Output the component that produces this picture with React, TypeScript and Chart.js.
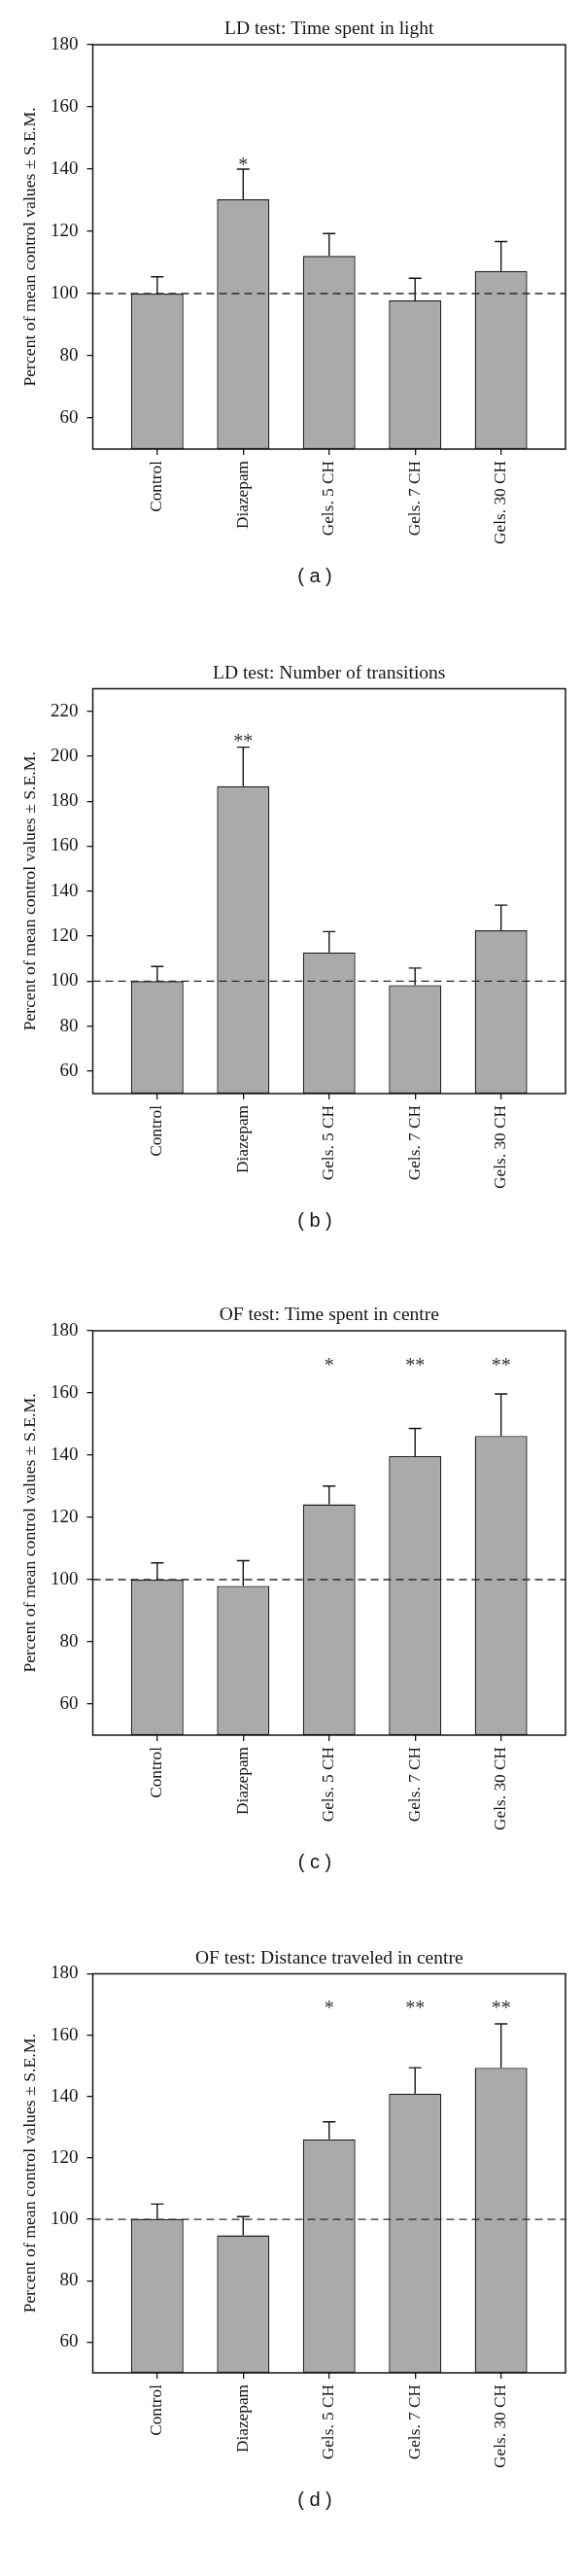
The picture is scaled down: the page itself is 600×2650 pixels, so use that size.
import React, { useEffect, useRef } from "react";
import { Chart, registerables } from "chart.js";

Chart.register(...registerables);

// ---------- data ----------
const categories = ["Control", "Diazepam", "Gels. 5 CH", "Gels. 7 CH", "Gels. 30 CH"];

const titleA = "LD test: Time spent in light";
const titleB = "LD test: Number of transitions";
const titleC = "OF test: Time spent in centre";
const titleD = "OF test: Distance traveled in centre";

const labelA = "( a )";
const labelB = "( b )";
const labelC = "( c )";
const labelD = "( d )";

const meanA = [100, 130.3, 112.1, 97.8, 107.3];
const semA = [5.4, 9.7, 7.2, 7.1, 9.4];
const sigA = ["", "*", "", "", ""];
const sigYA = 142.8;

const meanB = [100, 186.7, 112.8, 98.2, 122.6];
const semB = [6.5, 17.3, 9.2, 7.6, 11.2];
const sigB = ["", "**", "", "", ""];
const sigYB = 208.6;

const meanC = [100, 98, 124.2, 139.7, 146.2];
const semC = [5.4, 8.1, 5.9, 8.9, 13.5];
const sigC = ["", "", "*", "**", "**"];
const sigYC = 170.2;

const meanD = [100.1, 94.8, 126.1, 141, 149.4];
const semD = [4.9, 6.1, 5.7, 8.4, 14.3];
const sigD = ["", "", "*", "**", "**"];
const sigYD = 170.2;

const yTicksA = [60, 80, 100, 120, 140, 160, 180];
const yTicksB = [60, 80, 100, 120, 140, 160, 180, 200, 220];
const yTicksC = [60, 80, 100, 120, 140, 160, 180];
const yTicksD = [60, 80, 100, 120, 140, 160, 180];

const yMinA = 50, yMaxA = 180;
const yMinB = 50, yMaxB = 230;
const yMinC = 50, yMaxC = 180;
const yMinD = 50, yMaxD = 180;

const refValue = 100;
const yAxisTitle = "Percent of mean control values \u00b1 S.E.M.";

// ---------- styling ----------
const SERIF = "'Liberation Serif', 'Times New Roman', serif";
const SANS = "'Liberation Sans', Arial, sans-serif";
const INK = "#151515";

interface PanelProps {
  title: string;
  label: string;
  means: number[];
  sems: number[];
  sig: string[];
  sigY: number;
  yTicks: number[];
  yMin: number;
  yMax: number;
  height: number;
  areaTop: number;
  areaBottom: number;
}

function Panel(p: PanelProps) {
  const ref = useRef<HTMLCanvasElement | null>(null);

  useEffect(() => {
    if (!ref.current) return;
    const overlay = {
      id: "overlay",
      afterDatasetsDraw(chart: any) {
        const { ctx, chartArea: ca, scales } = chart;
        const xs = scales.x;
        const ys = scales.y;
        ctx.save();
        // reference dashed line
        const yRef = ys.getPixelForValue(refValue);
        ctx.strokeStyle = "#2a2a2a";
        ctx.lineWidth = 1.3;
        ctx.setLineDash([8, 5]);
        ctx.beginPath();
        ctx.moveTo(ca.left, yRef);
        ctx.lineTo(ca.right, yRef);
        ctx.stroke();
        ctx.setLineDash([]);
        // error bars and significance marks
        p.means.forEach((m, i) => {
          const px = xs.getPixelForValue(i);
          const yb = ys.getPixelForValue(m);
          const yt = ys.getPixelForValue(m + p.sems[i]);
          ctx.strokeStyle = INK;
          ctx.lineWidth = 1.4;
          ctx.beginPath();
          ctx.moveTo(px, yb);
          ctx.lineTo(px, yt);
          ctx.moveTo(px - 6.5, yt);
          ctx.lineTo(px + 6.5, yt);
          ctx.stroke();
          if (p.sig[i]) {
            ctx.fillStyle = "#333";
            ctx.font = `20px ${SERIF}`;
            ctx.textAlign = "center";
            ctx.textBaseline = "alphabetic";
            ctx.fillText(p.sig[i], px, ys.getPixelForValue(p.sigY) + 10.5);
          }
        });
        // frame
        ctx.strokeStyle = INK;
        ctx.lineWidth = 1.5;
        ctx.strokeRect(ca.left, ca.top, ca.right - ca.left, ca.bottom - ca.top);
        // title
        ctx.fillStyle = INK;
        ctx.font = `19.5px ${SERIF}`;
        ctx.textAlign = "center";
        ctx.textBaseline = "alphabetic";
        ctx.fillText(p.title, (ca.left + ca.right) / 2, ca.top - 11);
        // y axis title
        ctx.save();
        ctx.translate(31, (ca.top + ca.bottom) / 2);
        ctx.rotate(-Math.PI / 2);
        ctx.textBaseline = "middle";
        ctx.font = `17.7px ${SERIF}`;
        ctx.fillText(yAxisTitle, 0, 0);
        ctx.restore();
        // panel label
        ctx.font = `20px ${SANS}`;
        ctx.textBaseline = "middle";
        ctx.fillText(p.label, 324, ca.bottom + 131);
        ctx.restore();
      },
    };

    const chart = new Chart(ref.current, {
      type: "bar",
      data: {
        datasets: [
          {
            data: p.means.map((v, i) => ({ x: i, y: v })),
            backgroundColor: "#aaaaaa",
            borderColor: "#1e1e1e",
            borderWidth: 1.4,
            borderSkipped: false,
            base: p.yMin,
            barPercentage: 0.61,
            categoryPercentage: 1,
          } as any,
        ],
      },
      options: {
        responsive: false,
        animation: false,
        devicePixelRatio: 1,
        layout: {
          padding: {
            top: p.areaTop,
            left: 0,
            right: 18,
            bottom: p.height - p.areaBottom - 110,
          },
        },
        plugins: {
          legend: { display: false },
          tooltip: { enabled: false },
          title: { display: false },
        },
        scales: {
          x: {
            type: "linear",
            min: -0.75,
            max: 4.75,
            offset: false,
            bounds: "data",
            border: { display: false },
            grid: {
              offset: false,
              drawOnChartArea: false,
              drawTicks: true,
              tickLength: 6,
              color: INK,
              lineWidth: 1.3,
            },
            ticks: {
              autoSkip: false,
              minRotation: 90,
              maxRotation: 90,
              padding: 6,
              color: INK,
              font: { family: SERIF, size: 17.3 },
              callback: (v: any) => categories[Math.round(Number(v))] ?? "",
            },
            afterBuildTicks: (s: any) => {
              s.ticks = categories.map((_, i) => ({ value: i }));
            },
            afterFit: (s: any) => {
              s.height = 110;
              s.paddingLeft = 0;
              s.paddingRight = 0;
            },
          },
          y: {
            type: "linear",
            min: p.yMin,
            max: p.yMax,
            border: { display: false },
            grid: {
              drawOnChartArea: false,
              drawTicks: true,
              tickLength: 6,
              color: INK,
              lineWidth: 1.3,
            },
            ticks: {
              padding: 9,
              color: INK,
              font: { family: SERIF, size: 19 },
            },
            afterBuildTicks: (s: any) => {
              s.ticks = p.yTicks.map((v) => ({ value: v }));
            },
            afterFit: (s: any) => {
              s.width = 95.5;
              s.paddingTop = 0;
              s.paddingBottom = 0;
            },
          },
        },
      } as any,
      plugins: [overlay],
    });
    return () => chart.destroy();
  }, []);

  return (
    <div style={{ width: 600, height: p.height }}>
      <canvas ref={ref} width={600} height={p.height} style={{ display: "block" }} />
    </div>
  );
}

export default function App() {
  useEffect(() => {
    document.body.style.margin = "0";
    document.body.style.background = "#ffffff";
  }, []);
  return (
    <div style={{ width: 600, background: "#fff" }}>
      <Panel title={titleA} label={labelA} means={meanA} sems={semA} sig={sigA} sigY={sigYA}
        yTicks={yTicksA} yMin={yMinA} yMax={yMaxA} height={660} areaTop={46} areaBottom={462} />
      <Panel title={titleB} label={labelB} means={meanB} sems={semB} sig={sigB} sigY={sigYB}
        yTicks={yTicksB} yMin={yMinB} yMax={yMaxB} height={660} areaTop={48.5} areaBottom={465} />
      <Panel title={titleC} label={labelC} means={meanC} sems={semC} sig={sigC} sigY={sigYC}
        yTicks={yTicksC} yMin={yMinC} yMax={yMaxC} height={660} areaTop={49} areaBottom={465} />
      <Panel title={titleD} label={labelD} means={meanD} sems={semD} sig={sigD} sigY={sigYD}
        yTicks={yTicksD} yMin={yMinD} yMax={yMaxD} height={670} areaTop={50.5} areaBottom={461} />
    </div>
  );
}
